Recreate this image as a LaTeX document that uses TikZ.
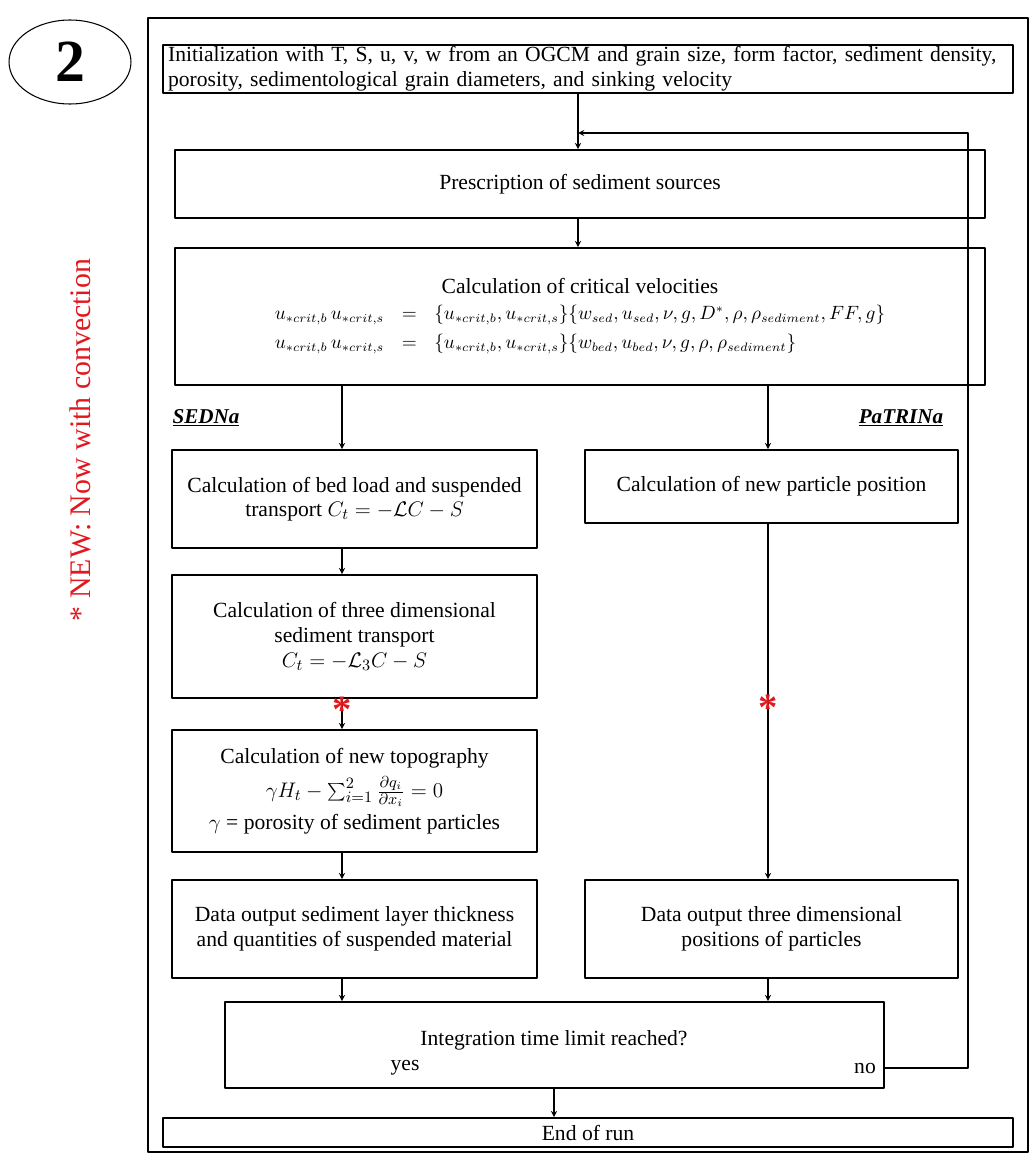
\documentclass[tikz,border=0pt]{standalone}
\usepackage{fontspec}
\setmainfont{Liberation Serif}
\usetikzlibrary{shapes.geometric}
\definecolor{newred}{RGB}{225,25,30}

\begin{document}
\begin{tikzpicture}[x=0.02cm, y=-0.02cm, font=\fontsize{12.3}{14}\selectfont, line join=round, >=stealth,
	box/.style={draw, line width=1pt, align=center, inner sep=0pt},
	colbox/.style={box, minimum width=7.3cm},
	patbox/.style={box, minimum width=7.46cm},
	wide/.style={box, minimum width=16.2cm},
	flow/.style={->, line width=0.6pt},
	star/.style={text=newred, font=\fontsize{22}{22}\selectfont\bfseries, inner sep=0pt},
	tag/.style={font=\fontsize{12}{14}\selectfont\bfseries\itshape}]
	\useasboundingbox (0,0) rectangle (1035,1159);
	
	% frame, number and note
	\draw[line width=1pt] (148,18) rectangle (1028,1152);
	\node[draw, ellipse, line width=0.6pt, minimum width=2.44cm, minimum height=1.68cm] (num) at (70,62) {\fontsize{34}{34}\selectfont\bfseries 2};
	\node[rotate=90, text=newred] (new) at (80,440) {\fontsize{17}{20}\selectfont * NEW: Now with convection};
	
	% boxes
	\node[box, minimum width=17cm, minimum height=0.96cm, align=left, text width=16.8cm] (init) at (588,69)
	{Initialization with T, S, u, v, w from an OGCM and grain size, form factor, sediment density,\\
		porosity, sedimentological grain diameters, and sinking velocity};
	\node[wide, minimum height=1.36cm] (pres) at (580,184) {Prescription of sediment sources};
	\node[wide, minimum height=2.74cm] (crit) at (580,316.5)
	{Calculation of critical velocities\\[5pt]
		{\fontsize{10.5}{12.5}\selectfont
		$\begin{array}{rcl}
			u_{*crit,b}\,u_{*crit,s} & = & \{u_{*crit,b},u_{*crit,s}\}\{w_{sed},u_{sed},\nu,g,D^{*},\rho,\rho_{sediment},FF,g\}\\[4pt]
			u_{*crit,b}\,u_{*crit,s} & = & \{u_{*crit,b},u_{*crit,s}\}\{w_{bed},u_{bed},\nu,g,\rho,\rho_{sediment}\}
		\end{array}$}};
	
	\node[tag] (sedna) at (206,418) {\underline{SEDNa}};
	\node[tag] (patrina) at (901,418) {\underline{PaTRINa}};
	
	\node[colbox, minimum height=1.96cm] (sed1) at (354.5,499)
	{Calculation of bed load and suspended\\ transport $C_t=-\mathcal{L}C-S$};
	\node[colbox, minimum height=2.46cm] (sed2) at (354.5,636.5)
	{Calculation of three dimensional\\ sediment transport\\ $C_t=-\mathcal{L}_3C-S$};
	\node[colbox, minimum height=2.44cm] (sed3) at (354.5,791)
	{Calculation of new topography\\[4pt] $\gamma H_t-\sum_{i=1}^{2}\frac{\partial q_i}{\partial x_i}=0$\\[4pt] $\gamma$ = porosity of sediment particles};
	\node[colbox, minimum height=1.96cm] (sed4) at (354.5,929)
	{Data output sediment layer thickness\\ and quantities of suspended material};
	
	\node[patbox, minimum height=1.46cm] (pat1) at (771.5,486.5) {Calculation of new particle position};
	\node[patbox, minimum height=1.96cm] (pat2) at (771.5,929)
	{Data output three dimensional\\ positions of particles};
	
	\node[box, minimum width=13.18cm, minimum height=1.72cm] (integ) at (554.5,1045) {};
	\node (ask) at (554,1040) {Integration time limit reached?};
	\node (yes) at (405,1068) {yes};
	\node (no) at (865,1068) {no};
	\node[box, minimum width=17cm, minimum height=0.58cm] (endrun) at (588,1132.5) {End of run};
	
	% connectors
	\coordinate (cl) at (578,0);
	\coordinate (sl) at (342,0);
	\coordinate (pl) at (768,0);
	\coordinate (back) at (578,133);
	\coordinate (fbtop) at (968,133);
	\draw[flow] (init.south -| cl) -- (pres.north -| cl);
	\draw[flow] (pres.south -| cl) -- (crit.north -| cl);
	\draw[flow] (crit.south -| sl) -- (sed1.north -| sl);
	\draw[flow] (crit.south -| pl) -- (pat1.north -| pl);
	\draw[flow] (sed1.south -| sl) -- (sed2.north -| sl);
	\draw[flow] (sed2.south -| sl) -- (sed3.north -| sl);
	\draw[flow] (sed3.south -| sl) -- (sed4.north -| sl);
	\draw[flow] (pat1.south -| pl) -- (pat2.north -| pl);
	\draw[flow] (sed4.south -| sl) -- (integ.north -| sl);
	\draw[flow] (pat2.south -| pl) -- (integ.north -| pl);
	\draw[flow] (integ.south -| ask) -- (endrun.north -| ask);
	\draw[flow] (integ.east |- no) -| (fbtop) -- (back);
	
	\node[star] (new1) at (342,710) {*};
	\node[star] (new2) at (768,708) {*};
\end{tikzpicture}
\end{document}
